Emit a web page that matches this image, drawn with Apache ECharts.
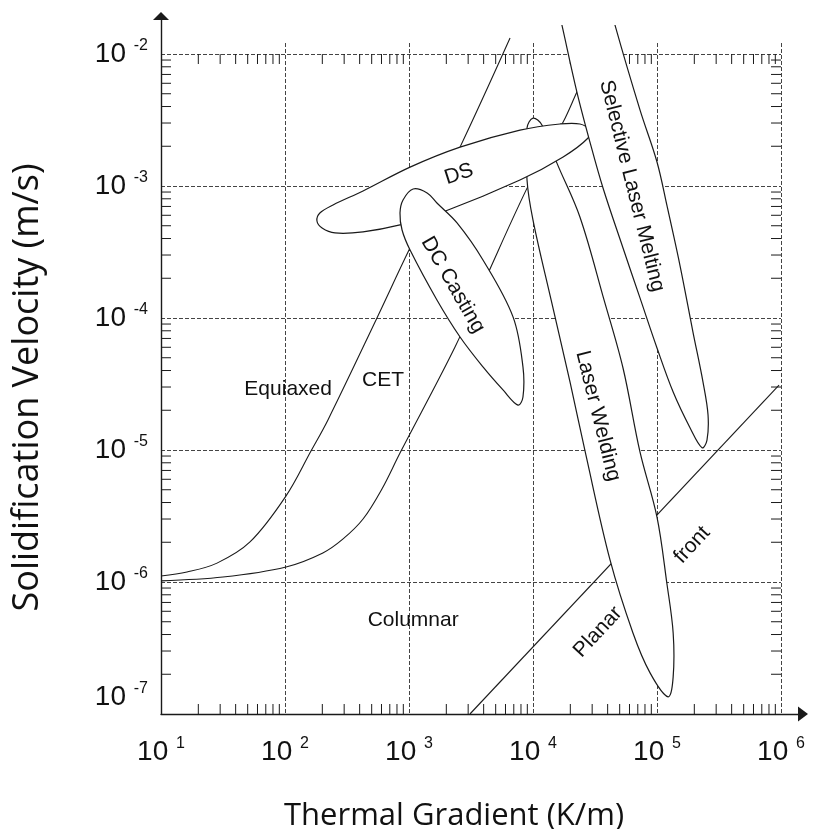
<!DOCTYPE html>
<html><head><meta charset="utf-8">
<script src="https://cdn.jsdelivr.net/npm/echarts@6/dist/echarts.min.js"></script>
<style>html,body{margin:0;padding:0;background:#fff}#c{width:819px;height:829px}</style>
</head><body><div id="c"></div>
<script>
// ---------------- data ----------------
// axis decades and their tick labels
const xTickExponents = ['1', '2', '3', '4', '5', '6'];        // 10^1 .. 10^6 K/m
const yTickExponents = ['-7', '-6', '-5', '-4', '-3', '-2'];  // 10^-7 .. 10^-2 m/s
const minorMantissas = [2, 3, 4, 5, 6, 7, 8, 9];

// boundary curves [G (K/m), V (m/s)]
const equiaxedBoundary = [[10,1.11e-6],[16.2,1.19e-6],[28.3,1.39e-6],[52.2,2.01e-6],[102,4.49e-6],[162,9.82e-6],[222,1.69e-5],[542,9.66e-5],[1000,3.27e-4],[2580,1.97e-3],[6530,1.32e-2]];
const cetCurve = [[10,1.02e-6],[31.6,1.09e-6],[102,1.30e-6],[202,1.66e-6],[294,2.12e-6],[426,3.00e-6],[605,5.07e-6],[846,9.49e-6],[2350,6.03e-5],[4100,1.94e-4],[9460,1.07e-3],[17500,3.05e-3],[22600,5.15e-3],[26300,6.93e-3]];
const planarFront = [[3100,1e-7],[9.64e5,3.10e-5]];

// process-window outlines [G, V]
const laserWeldingOutline = [[1.00e4,3.27e-3],[1.18e4,2.90e-3],[1.56e4,1.49e-3],[2.39e4,5.82e-4],[3.74e4,1.37e-4],[5.32e4,4.18e-5],[7.29e4,9.66e-6],[1.00e5,3.10e-6],[1.20e5,9.82e-7],[1.35e5,4.11e-7],[1.35e5,1.91e-7],[1.23e5,1.35e-7],[8.79e4,2.05e-7],[6.40e4,4.11e-7],[4.18e4,1.47e-6],[2.67e4,9.17e-6],[1.99e4,3.27e-5],[1.40e4,1.37e-4],[1.00e4,5.52e-4],[8.95e3,1.11e-3],[8.95e3,2.75e-3]];
const dsOutline = [[181,5.43e-4],[191,6.24e-4],[244,7.18e-4],[426,9.17e-4],[1020,1.39e-3],[2580,1.97e-3],[7850,2.65e-3],[16500,2.95e-3],[23900,2.95e-3],[28300,2.65e-3],[27800,2.31e-3],[17500,1.66e-3],[7850,1.11e-3],[1880,6.35e-4],[846,5.07e-4],[426,4.49e-4],[253,4.41e-4],[199,4.81e-4]];
const dcCastingOutline = [[1080,9.49e-4],[895,7.83e-4],[846,6.24e-4],[879,4.64e-4],[1020,3.27e-4],[1680,1.37e-4],[2580,7.18e-5],[3950,4.26e-5],[5730,2.85e-5],[7570,2.19e-5],[8300,2.52e-5],[8300,4.26e-5],[6900,1.02e-4],[3950,2.75e-4],[2440,5.25e-4],[1680,7.43e-4],[1400,8.85e-4]];
const slmOutline = [[2.07e4,8.69e-2],[3.34e4,5.15e-2],[4.58e4,1.66e-2],[7.29e4,3.77e-3],[1.00e5,1.52e-3],[1.20e5,7.18e-4],[1.53e5,2.52e-4],[1.95e5,7.83e-5],[2.35e5,3.27e-5],[2.58e5,1.84e-5],[2.53e5,1.19e-5],[2.31e5,1.04e-5],[1.85e5,1.47e-5],[1.35e5,2.75e-5],[1.00e5,5.93e-5],[7.29e4,1.42e-4],[5.32e4,3.39e-4],[3.67e4,9.66e-4],[2.88e4,2.15e-3],[2.26e4,5.15e-3],[1.71e4,1.66e-2],[1.30e4,5.15e-2]];

// region labels and their anchor [G, V]
const labelTexts = ['Equiaxed', 'CET', 'DS', 'DC Casting', 'Laser Welding', 'Selective Laser Melting', 'Columnar', 'Planar', 'front'];
const labelG = [106, 617, 2530, 2260, 33400, 62800, 1080, 33400, 192000];
const labelV = [2.90e-5, 3.39e-5, 1.23e-3, 1.78e-4, 1.81e-5, 1.00e-3, 5.15e-7, 4.18e-7, 1.91e-6];

// ---------------- layout / styles ----------------
const X_MIN = 10, X_MAX = 1e6, Y_MIN = 1e-7, Y_MAX = 1e-2;
const PLOT = { left: 161, right: 38, top: 54, bottom: 115 };
const PX_PER_DECADE_Y = 132;
const yMaxFor = (topPx) => Math.pow(10, Math.log10(Y_MAX) + (PLOT.top - topPx) / PX_PER_DECADE_Y);
const labelRotationDeg = { 'DS': 18, 'DC Casting': -60, 'Laser Welding': -76, 'Selective Laser Melting': -76, 'Planar': 47, 'front': 47 };
const INK = '#1a1a1a';
const GRID_DASH = { type: [4, 2], color: '#444', width: 1 };

const regions = [
  { name: 'Laser Welding', outline: laserWeldingOutline },
  { name: 'DS', outline: dsOutline },
  { name: 'DC Casting', outline: dcCastingOutline },
  { name: 'Selective Laser Melting', outline: slmOutline }
];

const minorX = [], minorY = [];
for (let e = 1; e < 6; e++) minorMantissas.forEach(m => minorX.push(m * Math.pow(10, e)));
for (let e = -7; e < -2; e++) minorMantissas.forEach(m => minorY.push(m * Math.pow(10, e)));

const richLabel = {
  b: { fontFamily: 'Liberation Sans, Arial, sans-serif', fontSize: 28, lineHeight: 32, color: '#111' },
  s: { fontFamily: 'Liberation Sans, Arial, sans-serif', fontSize: 16, lineHeight: 16, verticalAlign: 'top', color: '#111' },
  gap: { fontSize: 10, lineHeight: 34 }
};
const expOf = v => Math.round(Math.log10(v));

const chart = echarts.init(document.getElementById('c'), null, { renderer: 'canvas' });
const hiddenAxis = (idx, type, min, max) => ({ gridIndex: idx, type, min, max, show: false });
const gridBox = (o) => Object.assign({ containLabel: false, outerBoundsMode: 'none' }, o);

chart.setOption({
  animation: false,
  backgroundColor: '#fff',
  grid: [
    gridBox({ left: PLOT.left, right: PLOT.right, top: PLOT.top, bottom: PLOT.bottom }),  // 0 labels + horizontal grid
    gridBox({ left: PLOT.left, right: PLOT.right, top: 43, bottom: PLOT.bottom }),        // 1 vertical grid
    gridBox({ left: PLOT.left, right: PLOT.right, top: 25, bottom: PLOT.bottom }),        // 2 data
    gridBox({ left: PLOT.left, right: 16, top: 16, bottom: PLOT.bottom })                 // 3 axis arrows
  ],
  xAxis: [
    {
      gridIndex: 0, type: 'log', logBase: 10, min: X_MIN, max: X_MAX,
      axisLine: { show: false }, axisTick: { show: false }, splitLine: { show: false },
      axisLabel: {
        margin: 22, showMinLabel: true, showMaxLabel: true,
        formatter: v => '{b|10 }{s|' + xTickExponents[expOf(v) - 1] + '}',
        rich: richLabel
      },
      name: 'Thermal Gradient (K/m)', nameLocation: 'middle', nameGap: 87,
      nameTextStyle: { fontFamily: 'Open Sans', fontSize: 31, color: '#111', padding: [0, 34, 0, 0] }
    },
    {
      gridIndex: 1, type: 'log', logBase: 10, min: X_MIN, max: X_MAX,
      axisLine: { show: false }, axisTick: { show: false }, axisLabel: { show: false },
      splitLine: { show: true, lineStyle: GRID_DASH }
    },
    hiddenAxis(2, 'log', X_MIN, X_MAX),
    {
      gridIndex: 3, type: 'value', min: 0, max: 1,
      axisLine: { show: true, onZero: false, symbol: ['none', 'triangle'], symbolSize: [15, 10], lineStyle: { color: INK, width: 1.4 } },
      axisTick: { show: false }, axisLabel: { show: false }, splitLine: { show: false }
    }
  ],
  yAxis: [
    {
      gridIndex: 0, type: 'log', logBase: 10, min: Y_MIN, max: Y_MAX,
      axisLine: { show: false }, axisTick: { show: false },
      splitLine: { show: true, lineStyle: GRID_DASH },
      axisLabel: {
        margin: 13, showMinLabel: true, showMaxLabel: true,
        formatter: v => {
          const e = expOf(v);
          const txt = '{b|10 }{s|' + yTickExponents[e + 7] + '}';
          return e === -7 ? txt + '\n{gap| }' : txt;
        },
        rich: richLabel
      },
      name: 'Solidification Velocity (m/s)', nameLocation: 'middle', nameGap: 115,
      nameTextStyle: { fontFamily: 'Open Sans', fontSize: 36, color: '#111', padding: [0, 7, 0, 0] }
    },
    hiddenAxis(1, 'log', Y_MIN, yMaxFor(43)),
    hiddenAxis(2, 'log', Y_MIN, yMaxFor(25)),
    {
      gridIndex: 3, type: 'value', min: 0, max: 1,
      axisLine: { show: true, onZero: false, symbol: ['none', 'triangle'], symbolSize: [16, 8], lineStyle: { color: INK, width: 1.4 } },
      axisTick: { show: false }, axisLabel: { show: false }, splitLine: { show: false }
    }
  ],
  series: [
    // minor ticks on all four sides
    {
      type: 'custom', xAxisIndex: 2, yAxisIndex: 2, silent: true, z: 1,
      data: [[X_MIN, Y_MIN]],
      renderItem: (params, api) => {
        const children = [];
        const L = 10;
        const seg = (x1, y1, x2, y2) => children.push({ type: 'line', shape: { x1, y1, x2, y2 }, style: { stroke: INK, lineWidth: 1 } });
        minorX.forEach(x => {
          const b = api.coord([x, Y_MIN]); seg(b[0], b[1], b[0], b[1] - L);
          const t = api.coord([x, Y_MAX]); seg(t[0], t[1], t[0], t[1] + L);
        });
        minorY.forEach(y => {
          const l = api.coord([X_MIN, y]); seg(l[0], l[1], l[0] + L, l[1]);
          const r = api.coord([X_MAX, y]); seg(r[0], r[1], r[0] - L, r[1]);
        });
        return { type: 'group', children };
      }
    },
    {
      type: 'line', xAxisIndex: 2, yAxisIndex: 2, data: equiaxedBoundary, smooth: 0.35, symbol: 'none',
      clip: false, silent: true, z: 2, lineStyle: { color: INK, width: 1.1 }
    },
    {
      type: 'line', xAxisIndex: 2, yAxisIndex: 2, data: cetCurve, smooth: 0.35, symbol: 'none',
      clip: false, silent: true, z: 2, lineStyle: { color: INK, width: 1.1 }
    },
    {
      type: 'line', xAxisIndex: 2, yAxisIndex: 2, data: planarFront, symbol: 'none',
      clip: false, silent: true, z: 2, lineStyle: { color: INK, width: 1.1 }
    },
    // process windows
    {
      type: 'custom', xAxisIndex: 2, yAxisIndex: 2, clip: true, silent: true, z: 3,
      data: regions.map(r => ({ name: r.name, value: r.outline[0] })),
      renderItem: (params, api) => {
        const r = regions[params.dataIndex];
        return {
          type: 'polygon',
          shape: { points: r.outline.map(p => api.coord(p)), smooth: 0.35 },
          style: { fill: '#fff', stroke: INK, lineWidth: 1.2 }
        };
      }
    },
    // region labels
    {
      type: 'custom', xAxisIndex: 2, yAxisIndex: 2, silent: true, z: 4,
      data: labelTexts.map((t, i) => ({ name: t, value: [labelG[i], labelV[i]] })),
      renderItem: (params, api) => {
        const t = labelTexts[params.dataIndex];
        const p = api.coord([labelG[params.dataIndex], labelV[params.dataIndex]]);
        return {
          type: 'text', x: p[0], y: p[1], rotation: (labelRotationDeg[t] || 0) * Math.PI / 180,
          style: { text: t, fontFamily: 'Liberation Sans, Arial, sans-serif', fontSize: 21, fill: '#111', align: 'center', verticalAlign: 'middle' }
        };
      }
    }
  ]
});
</script>
</body></html>
